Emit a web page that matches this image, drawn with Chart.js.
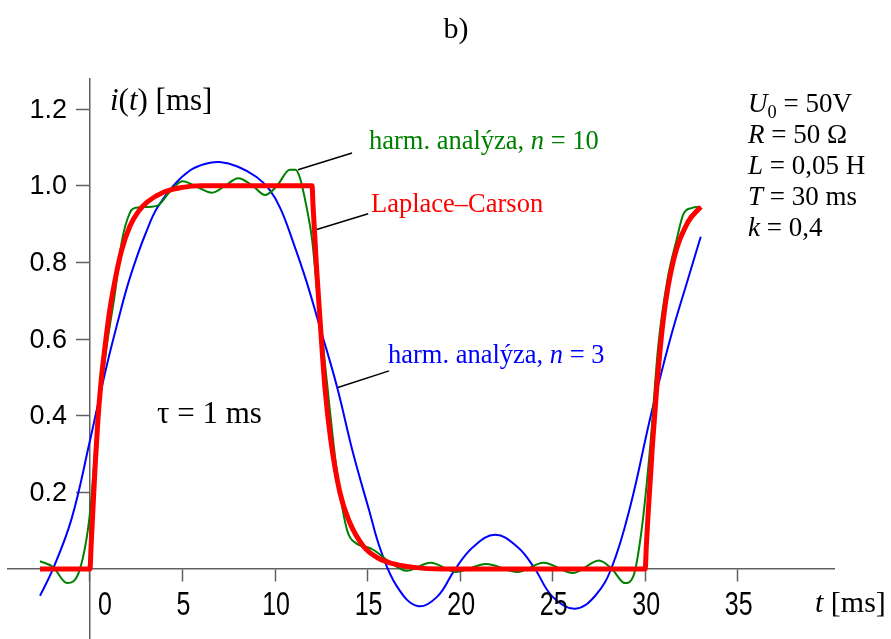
<!DOCTYPE html>
<html>
<head>
<meta charset="utf-8">
<script src="https://cdn.jsdelivr.net/npm/chart.js@4/dist/chart.umd.min.js"></script>
<style>
  html, body { margin: 0; padding: 0; background: #fff; }
  canvas { display: block; }
</style>
</head>
<body>
<canvas id="chart" width="891" height="639"></canvas>
<script>
// Laplace–Carson solution (red)
const tRed = [-2.7, 0, 0.06, 0.15, 0.28, 0.43, 0.6, 0.81, 1.05, 1.3, 1.7, 2.16, 2.6, 3.1, 4.0, 5.0, 6.0, 12.0, 12.05, 12.25, 12.43, 12.7, 13.0, 13.5, 14.0, 14.76, 15.5, 16.2, 17.5, 19.0, 30.0, 30.06, 30.16, 30.4, 30.65, 31.0, 31.5, 32.3, 33.0];
const iRed = [0, 0, 0.06, 0.146, 0.27, 0.39, 0.49, 0.58, 0.67, 0.74, 0.83, 0.895, 0.932, 0.958, 0.984, 0.996, 1.0, 1.0, 0.95, 0.78, 0.65, 0.47, 0.34, 0.2, 0.125, 0.06, 0.03, 0.016, 0.004, 0, 0, 0.06, 0.146, 0.33, 0.49, 0.66, 0.8, 0.905, 0.945];

// harmonic analysis, n = 10 (green)
const tGreen = [-2.7, -2.0, -1.24, -0.54, 0, 0.36, 0.9, 1.35, 1.7, 2.16, 2.5, 3.1, 3.7, 4.3, 5.0, 5.8, 6.6, 7.3, 8.0, 8.8, 9.46, 10.1, 10.8, 11.1, 11.35, 11.7, 12.0, 12.3, 12.6, 12.97, 13.4, 13.9, 14.4, 14.9, 15.3, 16.2, 17.1, 18.4, 19.8, 21.4, 23.1, 24.5, 26.1, 27.5, 28.2, 28.9, 29.35, 29.8, 30.27, 30.7, 31.2, 31.7, 32.05, 32.5, 33.0];
const iGreen = [0.02, 0.005, -0.037, 0.0, 0.146, 0.36, 0.58, 0.72, 0.85, 0.93, 0.943, 0.945, 0.95, 0.984, 1.012, 0.997, 0.982, 1.0, 1.02, 1.0, 0.976, 1.0, 1.042, 1.042, 1.02, 0.945, 0.86, 0.71, 0.58, 0.41, 0.232, 0.1, 0.066, 0.058, 0.05, 0.018, -0.005, 0.016, -0.008, 0.013, -0.008, 0.016, -0.011, 0.022, 0.0, -0.037, -0.02, 0.1, 0.32, 0.58, 0.755, 0.86, 0.925, 0.942, 0.945];

// harmonic analysis, n = 3 (blue)
const tBlue = [-2.7, -2.0, -1.0, 0, 0.5, 1.0, 1.5, 2.0, 2.5, 3.0, 3.6, 4.5, 5.4, 6.2, 7.0, 8.0, 9.0, 9.7, 10.3, 11.0, 11.7, 12.4, 13.35, 14.2, 15.1, 15.7, 16.6, 17.7, 18.75, 19.7, 20.7, 21.9, 23.1, 24.0, 25.0, 26.2, 27.3, 28.2, 29.2, 30.3, 31.35, 32.3, 33.0];
const iBlue = [-0.07, 0.0, 0.13, 0.335, 0.445, 0.55, 0.645, 0.735, 0.81, 0.875, 0.94, 1.0, 1.04, 1.057, 1.062, 1.05, 1.023, 0.99, 0.94, 0.85, 0.75, 0.635, 0.475, 0.305, 0.15, 0.05, -0.047, -0.097, -0.073, -0.003, 0.057, 0.089, 0.057, 0.003, -0.073, -0.104, -0.07, 0.005, 0.165, 0.4, 0.6, 0.755, 0.867];

// leader lines from labels to curves
const leaderGreen = [[11.24, 1.042], [14.16, 1.086]];
const leaderRed = [[12.16, 0.885], [15.03, 0.927]];
const leaderBlue = [[13.35, 0.473], [16.16, 0.517]];

const xTicks = [0, 5, 10, 15, 20, 25, 30, 35];
const yTicks = [0.2, 0.4, 0.6, 0.8, 1.0, 1.2];

function toPoints(ts, vs) {
  return ts.map((t, i) => ({ x: t, y: vs[i] }));
}
function pairPoints(arr) {
  return arr.map((p) => ({ x: p[0], y: p[1] }));
}

const serif = '"Liberation Serif", "Times New Roman", serif';
const sans = '"Liberation Sans", Arial, sans-serif';

// draws a run of text pieces, e.g. italic letters mixed with upright ones
function drawRuns(ctx, x, y, size, color, runs) {
  ctx.fillStyle = color;
  ctx.textBaseline = "alphabetic";
  ctx.textAlign = "left";
  let cx = x;
  runs.forEach((r) => {
    const s = r.sub ? size * 0.68 : size;
    ctx.font = (r.it ? "italic " : "") + s + "px " + serif;
    ctx.fillText(r.t, cx, r.sub ? y + size * 0.22 : y);
    cx += ctx.measureText(r.t).width;
  });
}

const textPlugin = {
  id: "texts",
  afterDraw(chart) {
    const ctx = chart.ctx;
    const xs = chart.scales.x;
    const ys = chart.scales.y;
    const axisX = xs.getPixelForValue(0);
    const axisY = ys.getPixelForValue(0);
    ctx.save();

    // y tick labels, left of the tick marks
    ctx.fillStyle = "#000";
    ctx.font = "27px " + sans;
    ctx.textAlign = "right";
    ctx.textBaseline = "middle";
    yTicks.forEach((v) => {
      ctx.fillText(v.toFixed(1), axisX - 23, ys.getPixelForValue(v) + 1);
    });

    // x tick labels: tall, narrow digits as in the original
    ctx.font = "25px " + sans;
    ctx.textAlign = "center";
    ctx.textBaseline = "alphabetic";
    xTicks.forEach((v) => {
      const px = xs.getPixelForValue(v) + (v === 0 ? 15 : 1);
      ctx.save();
      ctx.translate(px, axisY + 46);
      ctx.scale(1, 1.35);
      ctx.fillText(String(v), 0, 0);
      ctx.restore();
    });

    ctx.font = "30px " + serif;
    ctx.fillText("b)", 456, 38);

    drawRuns(ctx, 110, 110, 31, "#000", [
      { t: "i", it: true }, { t: "(" }, { t: "t", it: true }, { t: ") [ms]" }
    ]);
    drawRuns(ctx, 157, 423, 31, "#000", [{ t: "τ = 1 ms" }]);
    drawRuns(ctx, 815, 612, 30, "#000", [{ t: "t", it: true }, { t: " [ms]" }]);

    drawRuns(ctx, 369, 149, 26.5, "#008000", [
      { t: "harm. analýza, " }, { t: "n", it: true }, { t: " = 10" }
    ]);
    drawRuns(ctx, 371, 212, 26.5, "#ff0000", [{ t: "Laplace–Carson" }]);
    drawRuns(ctx, 388, 363, 26.5, "#0000ff", [
      { t: "harm. analýza, " }, { t: "n", it: true }, { t: " = 3" }
    ]);

    drawRuns(ctx, 748, 112, 27, "#000", [
      { t: "U", it: true }, { t: "0", sub: true }, { t: " = 50V" }
    ]);
    drawRuns(ctx, 748, 143, 27, "#000", [{ t: "R", it: true }, { t: " = 50 Ω" }]);
    drawRuns(ctx, 748, 174, 27, "#000", [{ t: "L", it: true }, { t: " = 0,05 H" }]);
    drawRuns(ctx, 748, 205, 27, "#000", [{ t: "T", it: true }, { t: " = 30 ms" }]);
    drawRuns(ctx, 748, 236, 27, "#000", [{ t: "k", it: true }, { t: " = 0,4" }]);
    ctx.restore();
  }
};

const lineDefaults = { showLine: true, pointRadius: 0, fill: false };

new Chart(document.getElementById("chart"), {
  type: "scatter",
  data: {
    datasets: [
      Object.assign({}, lineDefaults, {
        label: "Laplace–Carson",
        data: toPoints(tRed, iRed),
        borderColor: "#ff0000",
        borderWidth: 5,
        cubicInterpolationMode: "monotone"
      }),
      Object.assign({}, lineDefaults, {
        label: "n = 10",
        data: toPoints(tGreen, iGreen),
        borderColor: "#008000",
        borderWidth: 2,
        cubicInterpolationMode: "monotone"
      }),
      Object.assign({}, lineDefaults, {
        label: "n = 3",
        data: toPoints(tBlue, iBlue),
        borderColor: "#0000ff",
        borderWidth: 2,
        tension: 0.4
      }),
      Object.assign({}, lineDefaults, { data: pairPoints(leaderGreen), borderColor: "#000", borderWidth: 1.5 }),
      Object.assign({}, lineDefaults, { data: pairPoints(leaderRed), borderColor: "#000", borderWidth: 1.5 }),
      Object.assign({}, lineDefaults, { data: pairPoints(leaderBlue), borderColor: "#000", borderWidth: 1.5 })
    ]
  },
  options: {
    responsive: false,
    animation: false,
    devicePixelRatio: 1,
    layout: { padding: { left: 8, right: 57, top: 79, bottom: 0 } },
    plugins: {
      legend: { display: false },
      tooltip: { enabled: false }
    },
    scales: {
      x: {
        type: "linear",
        position: { y: 0 },
        min: -4.43,
        max: 40.2,
        afterBuildTicks: (scale) => {
          scale.ticks = xTicks.map((v) => ({ value: v }));
        },
        grid: { drawOnChartArea: false, drawTicks: true, tickLength: 12, color: "#606060", tickWidth: 1.5 },
        border: { display: true, color: "#606060", width: 1.5 },
        ticks: { display: false }
      },
      y: {
        type: "linear",
        position: { x: 0 },
        min: -0.183,
        max: 1.279,
        afterBuildTicks: (scale) => {
          scale.ticks = yTicks.map((v) => ({ value: v }));
        },
        grid: { drawOnChartArea: false, drawTicks: true, tickLength: 13, color: "#606060", tickWidth: 1.5 },
        border: { display: true, color: "#606060", width: 1.5 },
        ticks: { display: false }
      }
    }
  },
  plugins: [textPlugin]
});
</script>
</body>
</html>
